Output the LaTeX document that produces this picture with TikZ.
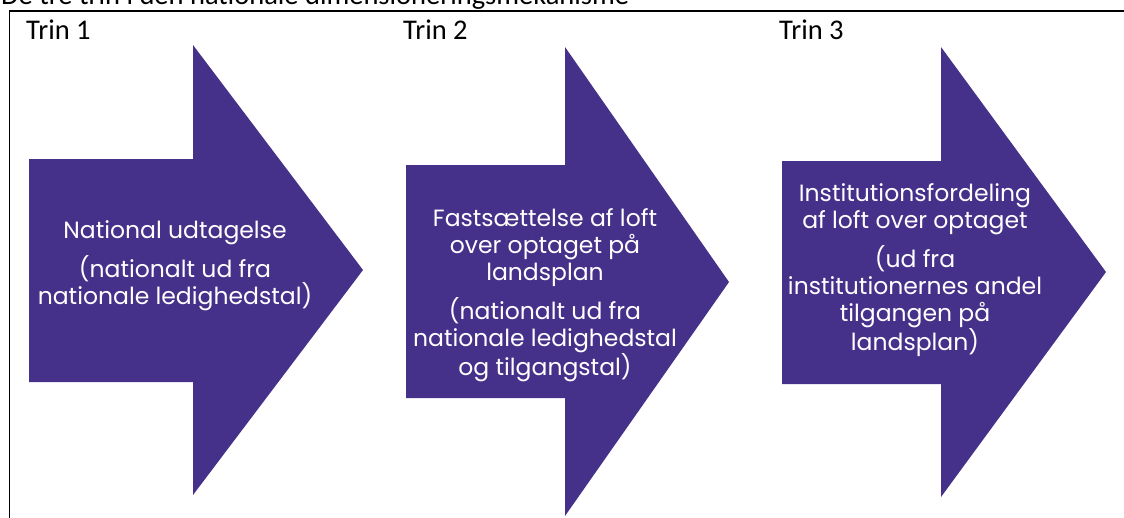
\documentclass[tikz,border=0pt]{standalone}
\usepackage{fontspec}
\setmainfont{Poppins}
\newfontfamily\trinfont{Carlito}
\usepackage{xcolor}
\usepackage{tikz}
\usetikzlibrary{positioning}
\definecolor{purple}{HTML}{46318A}
\definecolor{ink}{HTML}{000000}

\tikzset{
  trinlabel/.style={anchor=base west, inner sep=0pt, text=ink,
                    font=\trinfont\fontsize{28.5}{32}\selectfont},
  trintext/.style={align=center, text=white, inner sep=0pt,
                   font=\fontsize{23.5}{27}\selectfont}
}

\begin{document}
\begin{tikzpicture}[x=1pt, y=-1pt]
\useasboundingbox (0,0) rectangle (1124,517);
\clip (0,0) rectangle (1124,517);

% title (cut off by the page edge) and frame
\node[trinlabel] (title) at (1,4) {De tre trin i den nationale dimensioneringsmekanisme};
\draw[line width=1.6pt, ink] (9.5,530) -- (9.5,11) -- (1135,11);

% the three steps
\fill[purple] (29,159) -- (193,159) -- (193,45) -- (363,270)
  -- (193,495) -- (193,382) -- (29,382) -- cycle;
\fill[purple] (406,165) -- (565,165) -- (565,47) -- (729,282)
  -- (565,516) -- (565,398) -- (406,398) -- cycle;
\fill[purple] (782,161) -- (941,161) -- (941,47) -- (1106,272)
  -- (941,497) -- (941,384) -- (782,384) -- cycle;

\node[trinlabel] (trin1) at (26,39) {Trin 1};
\node[trinlabel] (trin2) at (403,39) {Trin 2};
\node[trinlabel] (trin3) at (779,39) {Trin 3};

\node[trintext] (step1) at (175,266) {National udtagelse\\[10pt]
  (nationalt ud fra\\nationale ledighedstal)};
\node[trintext] (step2) at (545,295) {Fastsættelse af loft\\over optaget på\\landsplan\\[10pt]
  (nationalt ud fra\\nationale ledighedstal\\og tilgangstal)};
\node[trintext] (step3) at (915,270) {Institutionsfordeling\\af loft over optaget\\[10pt]
  (ud fra\\institutionernes andel\\tilgangen på\\landsplan)};
\end{tikzpicture}
\end{document}
